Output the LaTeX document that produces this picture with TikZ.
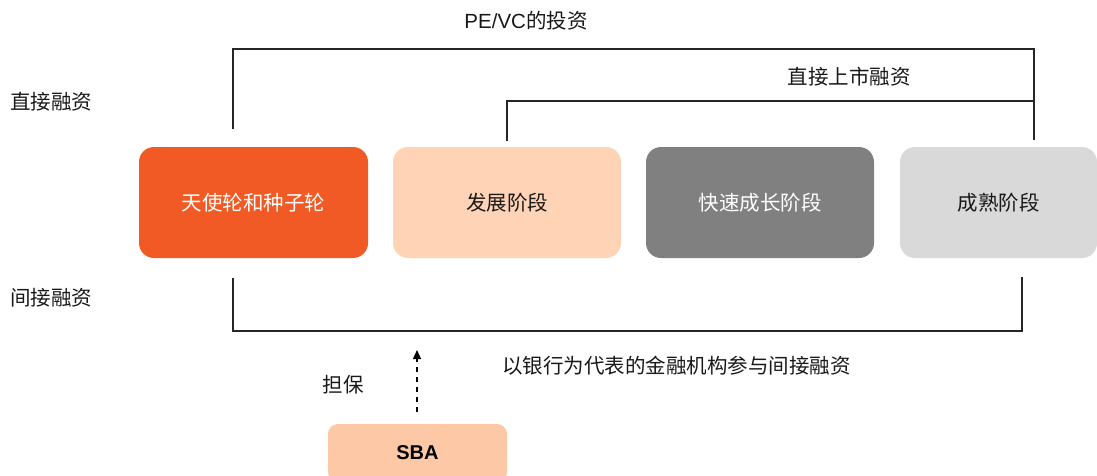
\documentclass[tikz,border=0pt]{standalone}
\usepackage{fontspec}
\setmainfont{Liberation Sans}
\newfontfamily\cjk{Noto Sans CJK SC}
\usetikzlibrary{arrows.meta,calc}
\definecolor{cOrange}{HTML}{F15A24}
\definecolor{cPeach}{HTML}{FFD3B6}
\definecolor{cGrey}{HTML}{808080}
\definecolor{cLight}{HTML}{D9D9D9}
\definecolor{cSBA}{HTML}{FCC8A6}
\tikzset{
  stage/.style={rounded corners=15pt, minimum height=111pt, inner sep=0pt, font=\fontsize{20.5}{24}\selectfont\cjk},
  lbl/.style={inner sep=0pt, font=\fontsize{20.5}{24}\selectfont\cjk, text=black!90},
  brk/.style={line width=1.3pt, draw=black!85},
}
\begin{document}
\begin{tikzpicture}[x=1pt,y=-1pt]
\useasboundingbox (0,0) rectangle (1097,475);
\clip (0,0) rectangle (1097,475);
% stage boxes
\node[stage, fill=cOrange, text=white, minimum width=229pt] (b1) at (253.5,202.5) {天使轮和种子轮};
\node[stage, fill=cPeach, text=black!90, minimum width=228pt] (b2) at (507,202.5) {发展阶段};
\node[stage, fill=cGrey, text=white, minimum width=228pt] (b3) at (760,202.5) {快速成长阶段};
\node[stage, fill=cLight, text=black!90, minimum width=197pt] (b4) at (998.5,202.5) {成熟阶段};
\node[rounded corners=10pt, fill=cSBA, minimum width=179pt, minimum height=58pt, inner sep=0pt, font=\fontsize{20}{24}\selectfont\bfseries] (sba) at (417.5,453) {SBA};
% side labels
\node[lbl, anchor=west] (direct) at (10,102) {直接融资};
\node[lbl, anchor=west] (indirect) at (10,298) {间接融资};
% bracket ends
\coordinate (t1) at (233,129);
\coordinate (t2) at (1034,140);
\coordinate (u1) at (507,141);
\coordinate (d1) at (233,278);
\coordinate (d2) at (1022,277);
\coordinate (arrS) at (417,412);
\coordinate (arrE) at (417,350);
% top brackets
\draw[brk] (t1) |- (1034,49) -- (t2);
\draw[brk] (u1) |- (1034,101);
% bottom bracket
\draw[brk] (d1) |- (1022,331) -- (d2);
% dashed arrow
\draw[line width=1.3pt, dash pattern=on 5pt off 5pt, -{Triangle[length=9pt,width=8pt]}] (arrS) -- (arrE);
% texts
\node[lbl] (pevc) at (526,21) {{\rmfamily PE/VC}的投资};
\node[lbl] (ipo) at (849,77) {直接上市融资};
\node[lbl] (bank) at (676.5,366) {以银行为代表的金融机构参与间接融资};
\node[lbl] (guar) at (343,385) {担保};
\end{tikzpicture}
\end{document}
